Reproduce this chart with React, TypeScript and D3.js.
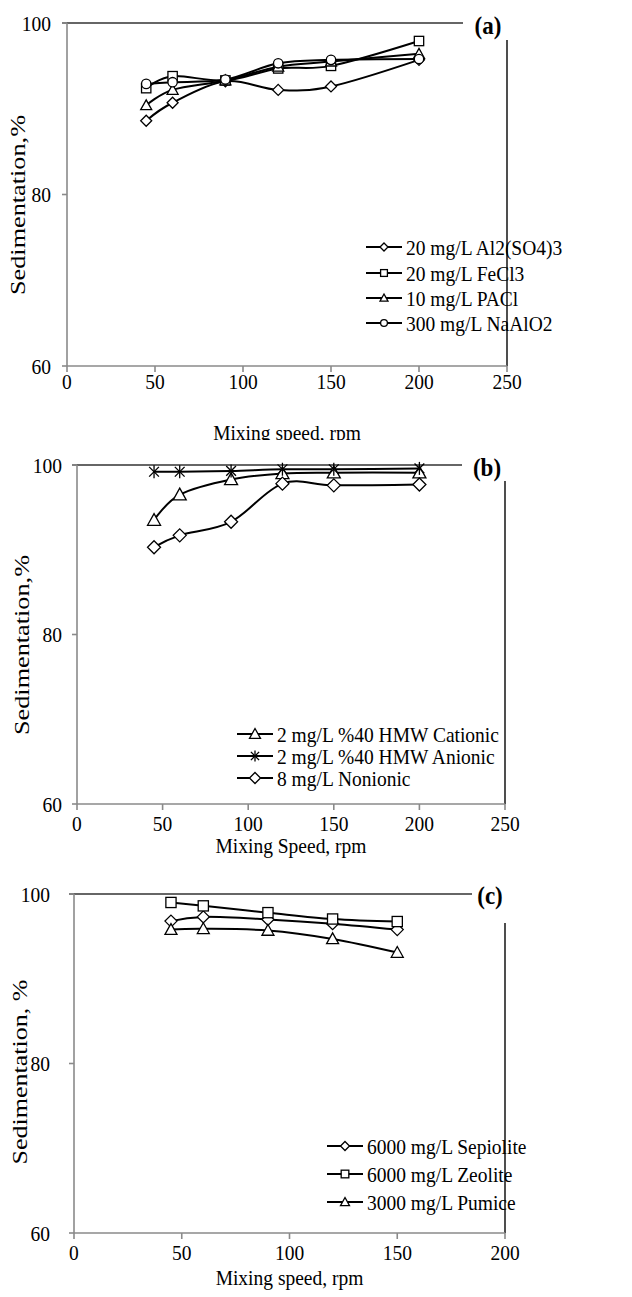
import React from "react";
import * as d3 from "d3";

const FONT = "'Liberation Serif', 'Times New Roman', serif";

// ---------- data ----------
const yTicks = [60, 80, 100];

const speedsA = [45, 60, 90, 120, 150, 200];
const xTicksA = [0, 50, 100, 150, 200, 250];
const alumA = [88.6, 90.7, 93.2, 92.2, 92.6, 95.7];
const fecl3A = [92.4, 93.8, 93.3, 94.7, 95.0, 97.9];
const paclA = [90.4, 92.2, 93.3, 94.9, 95.5, 96.4];
const naalo2A = [92.9, 93.1, 93.4, 95.3, 95.7, 95.8];
const legendA = ["20 mg/L Al2(SO4)3", "20 mg/L FeCl3", "10 mg/L PACl", "300 mg/L NaAlO2"];

const speedsB = [45, 60, 90, 120, 150, 200];
const xTicksB = [0, 50, 100, 150, 200, 250];
const cationicB = [93.5, 96.5, 98.3, 99.0, 99.1, 99.1];
const anionicB = [99.2, 99.2, 99.3, 99.5, 99.5, 99.6];
const nonionicB = [90.3, 91.7, 93.3, 97.8, 97.6, 97.7];
const legendB = ["2 mg/L %40 HMW Cationic", "2 mg/L %40 HMW Anionic", "8 mg/L Nonionic"];

const speedsC = [45, 60, 90, 120, 150];
const xTicksC = [0, 50, 100, 150, 200];
const sepioliteC = [96.8, 97.3, 97.0, 96.5, 95.8];
const zeoliteC = [99.0, 98.6, 97.8, 97.05, 96.75];
const pumiceC = [95.8, 95.9, 95.7, 94.7, 93.1];
const legendC = ["6000 mg/L Sepiolite", "6000 mg/L Zeolite", "3000 mg/L Pumice"];

type MarkerKind = "diamond" | "square" | "triangle" | "circle" | "asterisk";

function Marker({ kind, x, y, s }: { kind: MarkerKind; x: number; y: number; s: number }) {
  const common = { fill: "#fff", stroke: "#000", strokeWidth: 1.3 };
  const h = s / 2;
  if (kind === "diamond")
    return <path d={`M${x},${y - h}L${x + h},${y}L${x},${y + h}L${x - h},${y}Z`} {...common} />;
  if (kind === "square")
    return <rect x={x - h * 0.85} y={y - h * 0.85} width={h * 1.7} height={h * 1.7} {...common} />;
  if (kind === "triangle")
    return <path d={`M${x},${y - h}L${x + h},${y + h * 0.8}L${x - h},${y + h * 0.8}Z`} {...common} />;
  if (kind === "circle") return <circle cx={x} cy={y} r={h * 0.85} {...common} />;
  const a = h * 0.75;
  return (
    <g stroke="#000" strokeWidth={1.3}>
      <line x1={x - a} y1={y - a} x2={x + a} y2={y + a} />
      <line x1={x - a} y1={y + a} x2={x + a} y2={y - a} />
      <line x1={x} y1={y - h} x2={x} y2={y + h} />
    </g>
  );
}

function T({
  x,
  y,
  anchor = "start",
  size = 19.5,
  sy = 1.1,
  weight = "normal",
  children,
}: {
  x: number;
  y: number;
  anchor?: string;
  size?: number;
  sy?: number;
  weight?: string;
  children: React.ReactNode;
}) {
  return (
    <text
      transform={`translate(${x},${y}) scale(1,${sy})`}
      textAnchor={anchor}
      dy="0.35em"
      fontFamily={FONT}
      fontSize={size}
      fontWeight={weight}
      fill="#000"
    >
      {children}
    </text>
  );
}

type Series = { values: number[]; marker: MarkerKind; name: string };

type PanelProps = {
  id: string;
  tag: string;
  x0: number;
  x1: number;
  xMax: number;
  y100: number;
  y60: number;
  speeds: number[];
  xTicks: number[];
  series: Series[];
  markerSize: number;
  legendMarker: number;
  topLineEnd: number;
  rightStart: number;
  tagX: number;
  tagY: number;
  yTitle: string;
  yTitleX: number;
  yTitleY: number;
  yTitleLen: number;
  yLabelRight: number;
  xLabelY: number;
  xTitle: string;
  xTitleY: number;
  clipBottom: number;
  clipTop: number;
  legendX: number;
  legendY: number[];
};

function Panel(p: PanelProps) {
  const x = d3.scaleLinear().domain([0, p.xMax]).range([p.x0, p.x1]);
  const y = d3.scaleLinear().domain([60, 100]).range([p.y60, p.y100]);
  const line = d3
    .line<number>()
    .x((_, i) => x(p.speeds[i]))
    .y((d) => y(d))
    .curve(d3.curveCatmullRom.alpha(0));
  const axisGray = "#8a8a8a";
  return (
    <g>
      <defs>
        <clipPath id={`clip-${p.id}`}>
          <rect x={0} y={p.clipTop} width={632} height={p.clipBottom - p.clipTop} />
        </clipPath>
      </defs>
      <g clipPath={`url(#clip-${p.id})`}>
        <line x1={p.x0 - 5} x2={p.topLineEnd} y1={y(100)} y2={y(100)} stroke="#333" strokeWidth={1.6} />
        <line x1={p.x1} x2={p.x1} y1={p.rightStart} y2={y(60)} stroke="#222" strokeWidth={1.6} />
        <line x1={p.x0} x2={p.x0} y1={y(100)} y2={y(60)} stroke={axisGray} strokeWidth={1.6} />
        {yTicks.map((t) => (
          <g key={t}>
            <line x1={p.x0 - 5} x2={p.x0} y1={y(t)} y2={y(t)} stroke={axisGray} strokeWidth={1.6} />
            <T x={p.yLabelRight} y={y(t)} anchor="end">
              {t}
            </T>
          </g>
        ))}
        <line x1={p.x0} x2={p.x1} y1={y(60)} y2={y(60)} stroke={axisGray} strokeWidth={1.6} />
        {p.xTicks.map((t) => (
          <g key={t}>
            <line x1={x(t)} x2={x(t)} y1={y(60)} y2={y(60) + 6} stroke={axisGray} strokeWidth={1.6} />
            <T x={x(t)} y={p.xLabelY} anchor="middle">
              {t}
            </T>
          </g>
        ))}
        <T x={(p.x0 + p.x1) / 2} y={p.xTitleY} anchor="middle">
          {p.xTitle}
        </T>
        <text
          transform={`translate(${p.yTitleX},${p.yTitleY}) rotate(-90)`}
          textAnchor="middle"
          dy="0.35em"
          fontFamily={FONT}
          fontSize={21}
          textLength={p.yTitleLen}
          lengthAdjust="spacingAndGlyphs"
        >
          {p.yTitle}
        </text>
        <T x={p.tagX} y={p.tagY} anchor="middle" size={23} weight="bold">
          {p.tag}
        </T>
        {p.series.map((s, si) => (
          <path key={`l${si}`} d={line(s.values) || ""} fill="none" stroke="#000" strokeWidth={2} />
        ))}
        {p.series.map((s, si) =>
          s.values.map((v, i) => (
            <Marker key={`m${si}-${i}`} kind={s.marker} x={x(p.speeds[i])} y={y(v)} s={p.markerSize} />
          ))
        )}
        {p.series.map((s, si) => (
          <g key={`lg${si}`}>
            <line
              x1={p.legendX - 18}
              x2={p.legendX + 18}
              y1={p.legendY[si]}
              y2={p.legendY[si]}
              stroke="#000"
              strokeWidth={2}
            />
            <Marker kind={s.marker} x={p.legendX} y={p.legendY[si]} s={p.legendMarker} />
            <T x={p.legendX + 22} y={p.legendY[si]}>
              {s.name}
            </T>
          </g>
        ))}
      </g>
    </g>
  );
}

export default function App() {
  return (
    <div style={{ position: "absolute", left: 0, top: 0 }}>
      <svg width={632} height={1297} style={{ display: "block", background: "#fff" }}>
        <rect width={632} height={1297} fill="#fff" />
        <Panel
          id="a"
          tag="(a)"
          x0={67}
          x1={507}
          xMax={250}
          y100={23}
          y60={366}
          speeds={speedsA}
          xTicks={xTicksA}
          series={[
            { values: alumA, marker: "diamond", name: legendA[0] },
            { values: fecl3A, marker: "square", name: legendA[1] },
            { values: paclA, marker: "triangle", name: legendA[2] },
            { values: naalo2A, marker: "circle", name: legendA[3] },
          ]}
          markerSize={11}
          legendMarker={8}
          topLineEnd={463}
          rightStart={40}
          tagX={488}
          tagY={25}
          yTitle="Sedimentation,%"
          yTitleX={18}
          yTitleY={205}
          yTitleLen={180}
          yLabelRight={51}
          xLabelY={381}
          xTitle="Mixing speed, rpm"
          xTitleY={432}
          clipTop={0}
          clipBottom={440}
          legendX={384}
          legendY={[247, 273, 298, 323]}
        />
        <Panel
          id="b"
          tag="(b)"
          x0={77}
          x1={505}
          xMax={250}
          y100={465}
          y60={804}
          speeds={speedsB}
          xTicks={xTicksB}
          series={[
            { values: cationicB, marker: "triangle", name: legendB[0] },
            { values: anionicB, marker: "asterisk", name: legendB[1] },
            { values: nonionicB, marker: "diamond", name: legendB[2] },
          ]}
          markerSize={13}
          legendMarker={11}
          topLineEnd={462}
          rightStart={481}
          tagX={487}
          tagY={467}
          yTitle="Sedimentation,%"
          yTitleX={22}
          yTitleY={645}
          yTitleLen={180}
          yLabelRight={62}
          xLabelY={823}
          xTitle="Mixing Speed, rpm"
          xTitleY={845}
          clipTop={440}
          clipBottom={870}
          legendX={255}
          legendY={[734, 756, 778]}
        />
        <Panel
          id="c"
          tag="(c)"
          x0={74}
          x1={505}
          xMax={200}
          y100={894}
          y60={1233}
          speeds={speedsC}
          xTicks={xTicksC}
          series={[
            { values: sepioliteC, marker: "diamond", name: legendC[0] },
            { values: zeoliteC, marker: "square", name: legendC[1] },
            { values: pumiceC, marker: "triangle", name: legendC[2] },
          ]}
          markerSize={12}
          legendMarker={9}
          topLineEnd={472}
          rightStart={923}
          tagX={490}
          tagY={895}
          yTitle="Sedimentation, %"
          yTitleX={20}
          yTitleY={1072}
          yTitleLen={185}
          yLabelRight={50}
          xLabelY={1252}
          xTitle="Mixing speed, rpm"
          xTitleY={1277}
          clipTop={870}
          clipBottom={1297}
          legendX={345}
          legendY={[1146, 1174, 1202]}
        />
      </svg>
    </div>
  );
}
